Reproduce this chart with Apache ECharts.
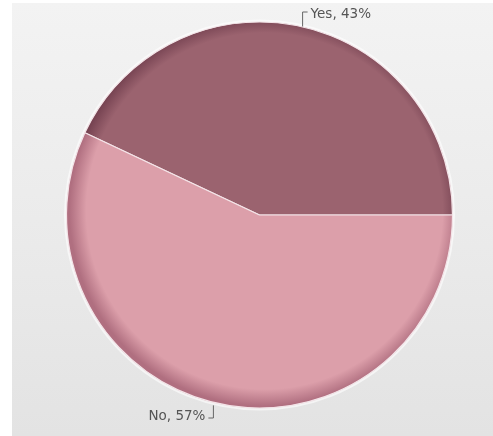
<!DOCTYPE html>
<html>
<head>
<meta charset="utf-8">
<script src="https://cdn.jsdelivr.net/npm/echarts@6/dist/echarts.min.js"></script>
<style>
  html, body { margin: 0; padding: 0; background: #ffffff; }
  #chart { width: 493px; height: 436px; }
</style>
</head>
<body>
<div id="chart"></div>
<script>
// Survey answers and their shares (percent)
const categories = ['Yes', 'No'];
const shares = [43, 57];

// Slice colours: flat fill plus a darker rim for the inset look
const fillColors = ['#9b636f', '#dc9faa'];
const rimColors = ['#744150', '#b06f80'];

const CX = 259.5, CY = 215, R = 193;

function sliceColor(i) {
  return {
    type: 'radial', x: CX + 5, y: CY - 4, r: R + 5, global: true,
    colorStops: [
      { offset: 0, color: fillColors[i] },
      { offset: 0.9, color: fillColors[i] },
      { offset: 0.985, color: rimColors[i] },
      { offset: 1, color: rimColors[i] }
    ]
  };
}

const chart = echarts.init(document.getElementById('chart'), null, { renderer: 'canvas' });

chart.setOption({
  animation: false,
  graphic: [
    {
      type: 'rect', z: -10, silent: true,
      shape: { x: 12, y: 3, width: 481, height: 433 },
      style: {
        fill: {
          type: 'linear', x: 0, y: 0, x2: 0, y2: 1,
          colorStops: [{ offset: 0, color: '#f3f3f3' }, { offset: 1, color: '#e3e3e3' }]
        }
      }
    },
    {
      // soft outer edge around the pie
      type: 'circle', z: -5, silent: true,
      shape: { cx: CX, cy: CY, r: R + 1.5 },
      style: { fill: 'none', stroke: '#ffffff', lineWidth: 2, opacity: 0.6 }
    }
  ],
  series: [{
    type: 'pie',
    center: [CX, CY],
    radius: [0, R],
    startAngle: 0,
    clockwise: false,
    data: categories.map((c, i) => ({
      name: c,
      value: shares[i],
      itemStyle: { color: sliceColor(i) }
    })),
    itemStyle: { borderColor: '#f4e4e8', borderWidth: 1.2 },
    label: {
      show: true,
      formatter: '{b}, {c}%',
      fontFamily: 'DejaVu Sans',
      fontSize: 13.5,
      color: '#555555'
    },
    labelLine: {
      show: true,
      lineStyle: { color: '#666666', width: 1 }
    },
    labelLayout: function (p) {
      const pt = p.labelLinePoints[0];
      if (p.dataIndex === 0) {
        const ty = 14;
        return {
          x: pt[0] + 9, y: ty, align: 'left', verticalAlign: 'middle',
          labelLinePoints: [[pt[0] + 1, pt[1] + 1], [pt[0] + 1, ty - 2], [pt[0] + 6, ty - 2]]
        };
      }
      const ty = 416;
      return {
        x: pt[0] - 12, y: ty, align: 'right', verticalAlign: 'middle',
        labelLinePoints: [[pt[0] - 4, pt[1] + 2], [pt[0] - 4, ty + 2], [pt[0] - 9, ty + 2]]
      };
    }
  }]
});
</script>
</body>
</html>
